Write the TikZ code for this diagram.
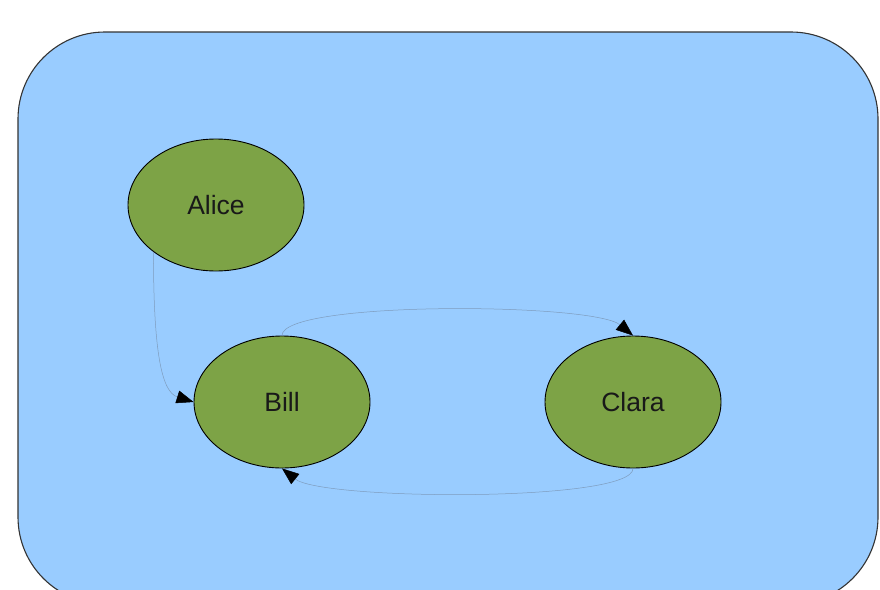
\documentclass[tikz,border=0pt]{standalone}
\usepackage{fontspec}
\setmainfont{Liberation Sans}
\usetikzlibrary{shapes.geometric,arrows.meta}
\definecolor{panelblue}{HTML}{99CCFF}
\definecolor{personfill}{HTML}{7DA346}
\definecolor{linkgray}{HTML}{7E9CBD}
\definecolor{framegray}{HTML}{333333}
\tikzset{
  person/.style={ellipse, draw=black, line width=0.9pt, fill=personfill,
    minimum width=176pt, minimum height=132pt, inner sep=0pt,
    font=\fontsize{26.5}{31}\selectfont, text=black!90},
  link/.style={draw=linkgray, line width=0.5pt,
    -{Triangle[length=17pt,width=13pt,fill=black,color=black]}},
}
\begin{document}
\begin{tikzpicture}[x=1pt,y=-1pt]
  \useasboundingbox (0,0) rectangle (880,589);
  \clip (0,0) rectangle (880,589);
  % group panel
  \draw[fill=panelblue, draw=framegray, line width=1.1pt, rounded corners=87pt]
    (18,32) rectangle (878,604);
  % people
  \node[person] (alice) at (216,205) {Alice};
  \node[person] (bill)  at (282,402) {Bill};
  \node[person] (clara) at (633,402) {Clara};
  % relations
  \draw[link] (alice.south west) .. controls +(0,100) and +(-32,-10) .. (bill.west);
  \draw[link] (bill.north) .. controls +(0,-35) and +(-40,-33) .. (clara.north);
  \draw[link] (clara.south) .. controls +(0,34) and +(40,32) .. (bill.south);
\end{tikzpicture}
\end{document}
